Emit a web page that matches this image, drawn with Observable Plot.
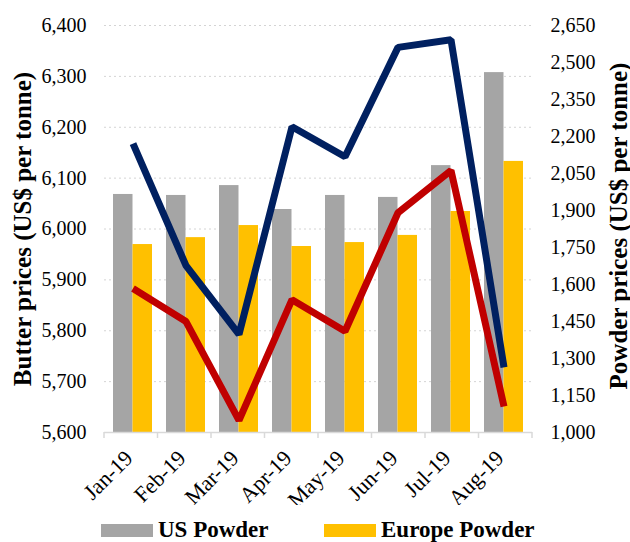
<!DOCTYPE html>
<html>
<head>
<meta charset="utf-8">
<script src="https://cdn.jsdelivr.net/npm/d3@7"></script>
<script src="https://cdn.jsdelivr.net/npm/@observablehq/plot@0.6"></script>
<style>
  body { margin: 0; background: #fff; font-family: "Liberation Serif", "Times New Roman", serif; }
  #chart { width: 630px; }
  #legend { position: relative; width: 630px; height: 37px; }
  #legend .sw { position: absolute; top: 19px; width: 52px; height: 13px; }
  #legend .lb { position: absolute; top: 13px; font-size: 23px; line-height: 23px; font-weight: bold; color: #000; white-space: nowrap; }
</style>
</head>
<body>
<div id="chart"></div>
<div id="legend">
  <span class="sw" style="left:101px;background:#A5A5A5"></span>
  <span class="lb" style="left:158px">US Powder</span>
  <span class="sw" style="left:324px;background:#FFC000"></span>
  <span class="lb" style="left:381px">Europe Powder</span>
</div>
<script>
const months = ["Jan-19", "Feb-19", "Mar-19", "Apr-19", "May-19", "Jun-19", "Jul-19", "Aug-19"];
const usPowder = [1965, 1961, 2001, 1904, 1961, 1953, 2082, 2459];
const europePowder = [1762, 1790, 1839, 1754, 1770, 1799, 1896, 2099];
const usButter = [6168, 5928, 5793, 6201, 6142, 6357, 6372, 5728];
const europeButter = [5883, 5818, 5624, 5861, 5799, 6032, 6115, 5651];
const butterTicks = [5600, 5700, 5800, 5900, 6000, 6100, 6200, 6300, 6400];
const powderTicks = [1000, 1150, 1300, 1450, 1600, 1750, 1900, 2050, 2200, 2350, 2500, 2650];

const B0 = 5600, B1 = 6400, P0 = 1000, P1 = 2650;
const toP = b => P0 + (b - B0) * (P1 - P0) / (B1 - B0);
const toB = p => B0 + (p - P0) * (B1 - B0) / (P1 - P0);
const fmt = d3.format(",");

const usP = months.map((m, i) => ({month: m, value: usPowder[i]}));
const euP = months.map((m, i) => ({month: m, value: europePowder[i]}));
const usB = months.map((m, i) => ({month: m, value: usButter[i]}));
const euB = months.map((m, i) => ({month: m, value: europeButter[i]}));

const boundaryTicks = (index, scales, values, dims) => {
  const g = d3.create("svg:g");
  const left = dims.marginLeft, right = dims.width - dims.marginRight;
  const step = (right - left) / months.length;
  const y0 = scales.y(P0);
  for (let i = 0; i <= months.length; i++) {
    const xx = left + i * step;
    g.append("line").attr("x1", xx).attr("x2", xx).attr("y1", y0).attr("y2", y0 + 6)
      .attr("stroke", "#d9d9d9").attr("stroke-width", 1.5);
  }
  return g.node();
};

const chart = Plot.plot({
  width: 630,
  height: 505,
  marginLeft: 104,
  marginRight: 98,
  marginTop: 25,
  marginBottom: 73,
  style: {fontFamily: "'Liberation Serif', 'Times New Roman', serif", fontSize: "20px", color: "#000", background: "#fff"},
  x: {domain: months, paddingInner: 0.27, paddingOuter: 0.135, axis: null},
  y: {domain: [P0, P1], axis: null},
  marks: [
    Plot.gridY(butterTicks.filter(b => b > B0).map(toP), {stroke: "#d4d4d4", strokeOpacity: 1, strokeDasharray: "2,3", strokeWidth: 1}),
    Plot.barY(usP, {x: "month", y1: P0, y2: "value", fill: "#A5A5A5", insetRight: 19.5}),
    Plot.barY(euP, {x: "month", y1: P0, y2: "value", fill: "#FFC000", insetLeft: 19.5}),
    Plot.ruleY([P0], {stroke: "#d9d9d9", strokeWidth: 1.5}),
    boundaryTicks,
    Plot.line(usB, {x: "month", y: d => toP(d.value), stroke: "#002060", strokeWidth: 7, strokeLinejoin: "miter", strokeLinecap: "butt"}),
    Plot.line(euB, {x: "month", y: d => toP(d.value), stroke: "#C00000", strokeWidth: 7, strokeLinejoin: "miter", strokeLinecap: "butt"}),
    Plot.axisY(butterTicks.map(toP), {anchor: "left", tickSize: 0, tickPadding: 18, tickFormat: p => fmt(Math.round(toB(p))), fontSize: 20, label: null}),
    Plot.axisY(powderTicks, {anchor: "right", tickSize: 0, tickPadding: 18, tickFormat: fmt, fontSize: 20, label: null}),
    Plot.axisX({tickSize: 0, tickRotate: -45, tickPadding: 18, dx: -4, dy: 4, fontSize: 22, label: null}),
    Plot.text(["Butter prices (US$ per tonne)"], {text: d => d, frameAnchor: "left", dx: -82, rotate: -90, fontSize: 25, fontWeight: "bold", textAnchor: "middle", fill: "#000"}),
    Plot.text(["Powder prices (US$ per tonne)"], {text: d => d, frameAnchor: "right", dx: 86, dy: -3, rotate: -90, fontSize: 25, fontWeight: "bold", textAnchor: "middle", fill: "#000"})
  ]
});
document.getElementById("chart").appendChild(chart);
</script>
</body>
</html>
